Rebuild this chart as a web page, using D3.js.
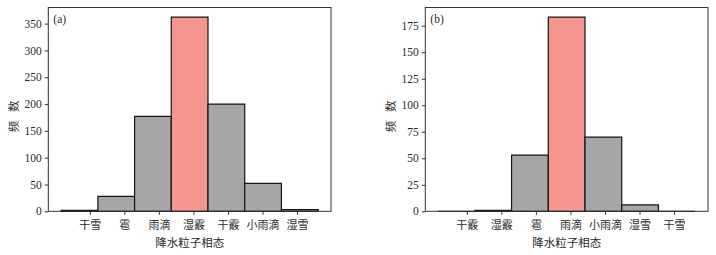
<!DOCTYPE html>
<html>
<head>
<meta charset="utf-8">
<script src="https://cdn.jsdelivr.net/npm/d3@7"></script>
<style>
  html, body { margin: 0; padding: 0; background: #fff; }
  svg text { font-family: "Liberation Serif", "Noto Sans CJK SC", serif; fill: #2a2a2a; }
</style>
</head>
<body>
<svg id="chart" width="716" height="255"></svg>
<script>
// Panel (a): counts by precipitation particle phase
const categoriesA = ["干雪", "雹", "雨滴", "湿霰", "干霰", "小雨滴", "湿雪"];
const countsA = [2, 28, 177, 362, 200, 52, 3];
const highlightA = 3;
const yTicksA = [0, 50, 100, 150, 200, 250, 300, 350];

// Panel (b)
const categoriesB = ["干霰", "湿霰", "雹", "雨滴", "小雨滴", "湿雪", "干雪"];
const countsB = [0, 1, 53, 183, 70, 6, 0];
const highlightB = 3;
const yTicksB = [0, 25, 50, 75, 100, 125, 150, 175];

// Category tick positions and histogram bin edges (same data units)
const tickPositions = [0, 1, 2, 3, 4, 5, 6];
const binEdges = [-0.83, 0.233, 1.296, 2.359, 3.422, 4.485, 5.548, 6.611];

const xTitle = "降水粒子相态";
const yTitle = "频 数";

const svg = d3.select("#chart");
const plotW = 282.7, plotH = 203.8, plotTop = 7.5;

function panel(left, cats, counts, hi, yTicks, tag) {
  const g = svg.append("g").attr("transform", `translate(${left},${plotTop})`);
  const span = binEdges[binEdges.length - 1] - binEdges[0];
  const x = d3.scaleLinear()
    .domain([binEdges[0] - 0.05 * span, binEdges[binEdges.length - 1] + 0.05 * span])
    .range([0, plotW]);
  const y = d3.scaleLinear().domain([0, d3.max(counts) * 1.05]).range([plotH, 0]);

  // bars as closed paths so that empty bins still show their outline
  g.selectAll("path.bar").data(counts).join("path")
    .attr("class", "bar")
    .attr("d", (d, i) => {
      const p = d3.path();
      p.moveTo(x(binEdges[i]), y(0));
      p.lineTo(x(binEdges[i + 1]), y(0));
      p.lineTo(x(binEdges[i + 1]), y(d));
      p.lineTo(x(binEdges[i]), y(d));
      p.closePath();
      return p.toString();
    })
    .attr("fill", (d, i) => i === hi ? "#f4968e" : "#a6a6a6")
    .attr("stroke", "#141414")
    .attr("stroke-width", 1.2);

  // frame
  g.append("rect").attr("x", 0).attr("y", 0).attr("width", plotW).attr("height", plotH)
    .attr("fill", "none").attr("stroke", "#333").attr("stroke-width", 1);

  const yAxis = g.append("g")
    .call(d3.axisLeft(y).tickValues(yTicks).tickSize(3.5).tickSizeOuter(0).tickPadding(3));
  yAxis.select(".domain").remove();
  yAxis.selectAll("line").attr("stroke", "#333");
  yAxis.selectAll("text").attr("font-size", "11.5px").attr("fill", "#2a2a2a");

  const xAxis = g.append("g").attr("transform", `translate(0,${plotH})`)
    .call(d3.axisBottom(x).tickValues(tickPositions).tickFormat(i => cats[i])
      .tickSize(3.5).tickSizeOuter(0).tickPadding(6));
  xAxis.select(".domain").remove();
  xAxis.selectAll("line").attr("stroke", "#333");
  xAxis.selectAll("text").attr("font-size", "11px").attr("fill", "#2a2a2a");

  g.append("text").attr("x", 5).attr("y", 15)
    .attr("font-size", "11.5px").text(tag);

  g.append("text").attr("x", plotW / 2).attr("y", plotH + 36)
    .attr("text-anchor", "middle").attr("font-size", "11.5px").text(xTitle);

  g.append("text")
    .attr("transform", `translate(-30,${plotH / 2 + 7}) rotate(-90)`)
    .attr("text-anchor", "middle").attr("font-size", "11.5px")
    .attr("word-spacing", "6px").text(yTitle);
}

panel(48.3, categoriesA, countsA, highlightA, yTicksA, "(a)");
panel(425.3, categoriesB, countsB, highlightB, yTicksB, "(b)");
</script>
</body>
</html>
